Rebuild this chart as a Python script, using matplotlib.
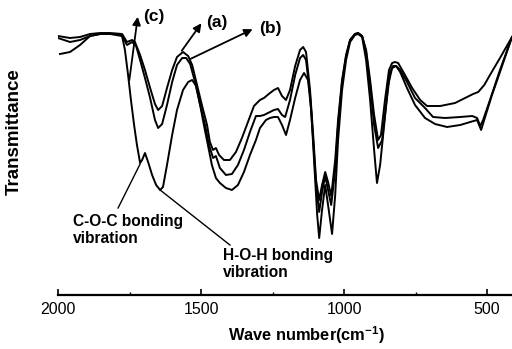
import matplotlib
matplotlib.use('Agg')
import matplotlib.pyplot as plt
from matplotlib.ticker import MultipleLocator

plt.rcParams['font.family'] = ['Liberation Sans', 'DejaVu Sans']
plt.rcParams['mathtext.fontset'] = 'custom'
plt.rcParams['mathtext.bf'] = 'Liberation Sans:bold'
plt.rcParams['mathtext.rm'] = 'Liberation Sans:bold'

# espectros IR (transmitancia en unidades arbitrarias)
wn_a = [2000, 1958, 1923, 1888, 1853, 1818, 1776, 1759, 1741, 1731, 1713, 1696, 1678, 1661, 1650, 1636,
        1619, 1601, 1584, 1563, 1545, 1531, 1514, 1497, 1479, 1469, 1458, 1448, 1437, 1420, 1399, 1378,
        1357, 1336, 1315, 1294, 1280, 1259, 1245, 1231, 1217, 1203, 1189, 1171, 1154, 1143, 1133, 1119,
        1108, 1098, 1087, 1077, 1066, 1056, 1045, 1031, 1021, 1007, 993, 979, 962, 951, 937, 923, 909,
        895, 881, 871, 857, 843, 832, 822, 811, 787, 762, 734, 710, 664, 612, 577, 549, 531, 510, 490,
        455, 413]
t_a = [259, 257, 258, 261, 262, 262, 261, 253, 255, 253, 240, 225, 207, 191, 185, 189,
       207, 225, 238, 243, 239, 230, 210, 190, 170, 153, 145, 147, 140, 135, 135, 143,
       157, 173, 189, 195, 197, 202, 205, 207, 199, 195, 205, 229, 245, 248, 243, 205,
       160, 115, 95, 110, 123, 113, 99, 135, 175, 215, 240, 255, 261, 262, 259, 245, 215,
       180, 155, 160, 195, 225, 232, 233, 232, 220, 207, 195, 189, 189, 192, 197, 201, 203, 210, 220,
       237, 258]

wn_b = [2000, 1958, 1923, 1888, 1853, 1818, 1776, 1759, 1741, 1727, 1713, 1696, 1678, 1661, 1650, 1636,
        1619, 1601, 1584, 1566, 1552, 1538, 1521, 1503, 1486, 1472, 1458, 1448, 1434, 1413, 1392, 1371,
        1350, 1329, 1308, 1294, 1280, 1259, 1245, 1231, 1217, 1206, 1189, 1171, 1154, 1143, 1133, 1119,
        1108, 1098, 1087, 1077, 1066, 1056, 1045, 1031, 1021, 1007, 993, 979, 962, 951, 937, 923, 909,
        895, 881, 867, 853, 839, 829, 818, 804, 780, 752, 717, 689, 647, 594, 552, 535, 524, 514, 490,
        455, 413]
t_b = [257, 253, 255, 259, 261, 261, 259, 250, 253, 249, 235, 217, 197, 175, 167, 171,
       190, 213, 230, 237, 237, 231, 213, 190, 170, 150, 137, 139, 127, 120, 121, 130,
       145, 163, 179, 179, 180, 183, 185, 186, 180, 178, 195, 220, 237, 240, 235, 200,
       155, 110, 83, 103, 119, 105, 90, 125, 170, 213, 239, 255, 261, 262, 259, 243, 210,
       170, 147, 155, 190, 223, 229, 229, 225, 213, 197, 187, 178, 177, 178, 179, 177, 169, 175, 195,
       225, 258]

wn_c = [1993, 1958, 1923, 1888, 1853, 1818, 1790, 1776, 1766, 1755, 1745, 1734, 1724, 1713, 1706, 1696,
        1685, 1671, 1657, 1643, 1633, 1619, 1601, 1584, 1563, 1545, 1531, 1517, 1503, 1490, 1476, 1462,
        1448, 1434, 1413, 1392, 1371, 1350, 1329, 1308, 1294, 1273, 1259, 1245, 1231, 1217, 1203, 1189,
        1171, 1154, 1140, 1126, 1115, 1105, 1094, 1087, 1077, 1066, 1056, 1042, 1031, 1021, 1007, 993,
        979, 962, 951, 937, 923, 909, 895, 885, 874, 860, 846, 832, 818, 804, 780, 752, 717, 682, 640,
        594, 559, 535, 521, 507, 483, 455, 413]
t_c = [241, 243, 250, 259, 261, 261, 261, 259, 245, 220, 195, 170, 150, 132, 135, 142,
       133, 120, 110, 105, 108, 130, 160, 185, 205, 213, 215, 209, 190, 170, 150, 130,
       117, 112, 107, 105, 110, 123, 140, 155, 167, 175, 177, 178, 178, 170, 160, 175,
       197, 215, 222, 215, 185, 135, 80, 57, 85, 110, 90, 61, 100, 155, 205, 235,
       253, 260, 261, 258, 235, 195, 145, 112, 130, 170, 210, 227, 229, 223, 207, 190, 177, 171, 168,
       170, 173, 175, 165, 178, 200, 223, 258]

fig = plt.figure(figsize=(5.12, 3.49), dpi=100)
ax = fig.add_axes([58/512, 54/349, 454/512, 295/349])

for wn, t in [(wn_a, t_a), (wn_b, t_b), (wn_c, t_c)]:
    ax.plot(wn, t, color='black', lw=1.4)

ax.set_xlim(2000, 413)
ax.set_ylim(0, 295)
for s in ['top', 'right', 'left']:
    ax.spines[s].set_visible(False)
ax.spines['bottom'].set_linewidth(1.6)
ax.set_yticks([])
ax.xaxis.set_major_locator(MultipleLocator(500))
ax.xaxis.set_minor_locator(MultipleLocator(250))
ax.tick_params(axis='x', which='major', direction='in', length=4, width=1.2, labelsize=11.5, pad=5)
ax.tick_params(axis='x', which='minor', direction='in', length=2, width=1)

ax.set_xlabel('Wave number(cm$\\mathbf{^{-1}}$)', fontsize=11.8, fontweight='bold')
ax.xaxis.set_label_coords(0.548, -0.098)
ax.set_ylabel('Transmittance', fontsize=13.5, fontweight='bold')
ax.yaxis.set_label_coords(-0.078, 0.555)

flecha = dict(arrowstyle='-|>', color='black', lw=1.3, mutation_scale=12)
ax.annotate('', xy=(1720, 281), xytext=(1752, 212), arrowprops=flecha)
ax.annotate('', xy=(1493, 274), xytext=(1573, 242), arrowprops=flecha)
ax.annotate('', xy=(1311, 267), xytext=(1545, 235), arrowprops=flecha)
ax.text(1703, 278, '(c)', fontsize=12.5, fontweight='bold', va='center')
ax.text(1482, 273, '(a)', fontsize=12.5, fontweight='bold', va='center')
ax.text(1297, 266, '(b)', fontsize=12.5, fontweight='bold', va='center')

ax.plot([1790, 1713], [87, 131], color='black', lw=1)
ax.plot([1643, 1399], [105, 50], color='black', lw=1)
ax.text(1948, 81, 'C-O-C bonding\nvibration', fontsize=11.2, fontweight='bold', va='top', linespacing=1.15)
ax.text(1423, 47, 'H-O-H bonding\nvibration', fontsize=11.2, fontweight='bold', va='top', linespacing=1.15)

fig.savefig('out.png', dpi=100)
